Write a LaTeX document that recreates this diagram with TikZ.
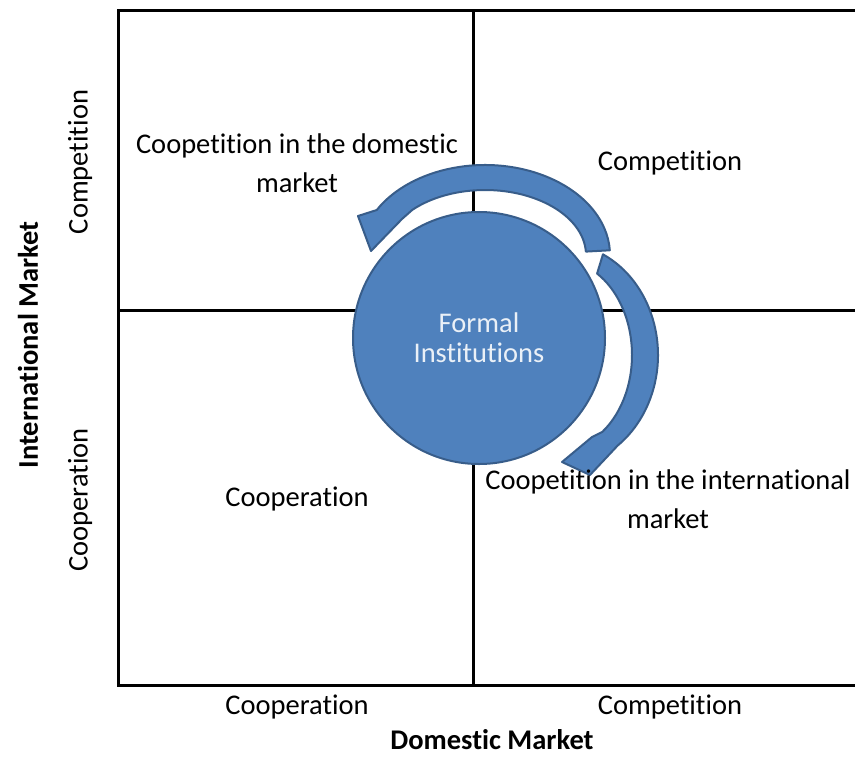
\documentclass[tikz,border=0pt]{standalone}
\usepackage{fontspec}
\setmainfont{Carlito}[RawFeature={-liga;-clig;-calt;-dlig;-rlig;-ccmp}]
\usetikzlibrary{calc}
\definecolor{fillblue}{HTML}{4F81BD}
\definecolor{lineblue}{HTML}{385D8A}
\tikzset{
	gridline/.style={line width=3pt, black},
	shapeblue/.style={fill=fillblue, draw=lineblue, line width=2pt, line join=round},
	lbl/.style={font=\fontsize{28.5}{39}\selectfont, align=center, inner sep=0pt},
	lblbold/.style={lbl, font=\fontsize{28.5}{39}\selectfont\bfseries},
}

\begin{document}
\begin{tikzpicture}[x=1pt, y=-1pt]
			%%%%% START %%%%%
			\useasboundingbox (0,0) rectangle (855,756);
			
			% the four fields
			\draw[gridline] (855,10) -- (118,10) -- (118,685) -- (855,685);
			\draw[gridline] (473,10) -- (473,685);
			\draw[gridline] (118,310) -- (855,310);
			
			% centre
			\node[circle, shapeblue, minimum size=252pt, text=white!88!fillblue, font=\fontsize{28.5}{30}\selectfont, align=center] (inst) at (479,338) {Formal\\Institutions};
			
			% upper arrow
			\coordinate (tc) at (485,255);
			\draw[shapeblue] ($(tc)+(-3:101 and 65)$) arc[start angle=-3, end angle=-136, x radius=101, y radius=65]
				-- (402,219) -- (371,251) -- (358,216)
				-- ($(tc)+(-150:125 and 90)$) arc[start angle=-150, end angle=-3, x radius=125, y radius=90] -- cycle;
			
			% right arrow
			\coordinate (rc) at (560,355);
			\draw[shapeblue] ($(rc)+(-64:98 and 112)$) arc[start angle=-64, end angle=54, x radius=98, y radius=112]
				-- (590,475) -- (562,462) -- (592,437)
				-- ($(rc)+(54:72 and 95)$) arc[start angle=54, end angle=-59, x radius=72, y radius=95] -- cycle;
			
			% fields
			\node[lbl] (dom) at (297,163) {Coopetition in the domestic\\market};
			\node[lbl] (comp) at (670,163) {Competition};
			\node[lbl] (coop) at (297,499) {Cooperation};
			\node[lbl] (intl) at (668,499) {Coopetition in the international\\market};
			
			% axes
			\node[lbl] (xcoop) at (297,707) {Cooperation};
			\node[lbl] (xcomp) at (670,707) {Competition};
			\node[lblbold] (xaxis) at (492,740) {Domestic Market};
			\node[lbl, rotate=90] (ycomp) at (80,162) {Competition};
			\node[lbl, rotate=90] (ycoop) at (80,500) {Cooperation};
			\node[lblbold, rotate=90] (yaxis) at (28,345) {International Market};
			
			%%%%% END %%%%%
\end{tikzpicture}
\end{document}
